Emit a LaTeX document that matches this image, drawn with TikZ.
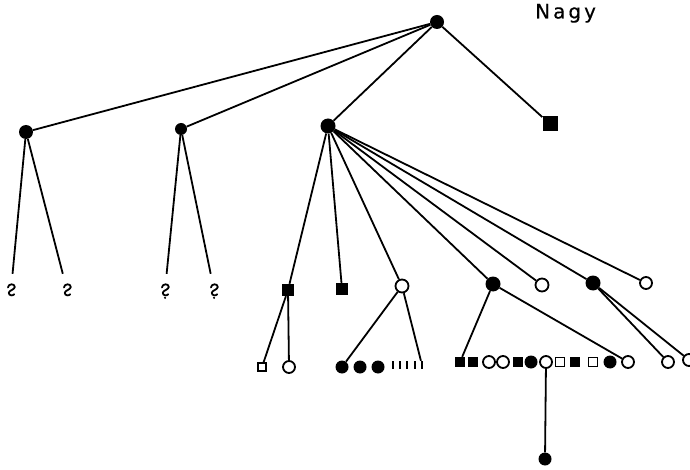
\documentclass[tikz,border=0pt]{standalone}
\usepackage{fontspec}
\newfontfamily\nagyfont[LetterSpace=15,FakeBold=0.4]{DejaVu Sans}
\begin{document}
\begin{tikzpicture}[x=1pt,y=-1pt,
  conn/.style={line width=1.8pt},
  fc/.style={circle,fill=black,inner sep=0pt,minimum size=#1},
  oc/.style={circle,draw=black,line width=1.8pt,fill=white,inner sep=0pt,minimum size=#1},
  fs/.style={rectangle,fill=black,inner sep=0pt,minimum size=#1},
  os/.style={rectangle,draw=black,line width=1.4pt,fill=white,inner sep=0pt,minimum size=#1},
  tally/.style={rectangle,fill=black,inner sep=0pt,minimum width=2.4pt,minimum height=8pt},
  hookbox/.style={rectangle,inner sep=0pt,minimum width=8pt,minimum height=32pt},
  glyph/.style={line width=1.8pt,line cap=round,line join=round}]
\useasboundingbox (0,0) rectangle (690,470);
% level 0
\node[fc=14pt] (root) at (437,22) {};
\node[anchor=base west,inner sep=0pt] (title) at (535,18.5) {\nagyfont\fontsize{20}{20}\selectfont Nagy};
% level 1
\node[fc=14pt] (A) at (26,132) {};
\node[fc=12pt] (B) at (181,129) {};
\node[fc=15pt] (C) at (328,126) {};
\node[fs=15pt] (D) at (550,124) {};
% question marks
\node[hookbox] (qa1) at (11,290) {};
\node[hookbox] (qa2) at (67,290) {};
\node[hookbox] (qb1) at (165,290) {};
\node[hookbox] (qb2) at (214,290) {};
\foreach \q/\d in {qa1/0,qa2/0,qb1/1,qb2/1}{
  \begin{scope}[shift={(\q.center)}]
    \draw[glyph] (-3,-2.5) .. controls (-3,-6.5) and (3.8,-6.8) .. (3.8,-3)
      .. controls (3.8,-0.5) and (-2.2,0.5) .. (-2.2,2.8)
      .. controls (-2.2,6) and (2.2,6) .. (3.2,4.2);
    \ifnum\d=1 \fill (0,7.8) circle (1.2pt);\fi
  \end{scope}
}
% level 2
\node[fs=12pt] (E) at (288,290) {};
\node[fs=12pt] (F) at (342,289) {};
\node[oc=13pt] (G) at (402,286) {};
\node[fc=15pt] (H) at (493,284) {};
\node[oc=13pt] (I) at (542,285) {};
\node[fc=15pt] (J) at (593,283) {};
\node[oc=12pt] (K) at (646,283) {};
% children of E
\node[os=8pt] (e1) at (262,367) {};
\node[oc=12pt] (e2) at (289,367) {};
% children of G
\node[fc=13pt] (g1) at (342,367) {};
\node[fc=13pt] (g2) at (360,367) {};
\node[fc=13pt] (g3) at (378,367) {};
\node[tally] (t1) at (393,365) {};
\node[tally] (t2) at (400,365) {};
\node[tally] (t3) at (407,365) {};
\node[tally] (t4) at (415,365) {};
\node[tally] (t5) at (422,365) {};
% children of H
\node[fs=10pt] (h1) at (460,362) {};
\node[fs=10pt] (h2) at (473,362) {};
\node[oc=12pt] (h3) at (489,362) {};
\node[oc=12pt] (h4) at (503,362) {};
\node[fs=10pt] (h5) at (518,362) {};
\node[fc=13pt] (h6) at (531,362) {};
\node[oc=12pt] (h7) at (546,362) {};
\node[os=9pt] (h8) at (560,362) {};
\node[fs=10pt] (h9) at (575,362) {};
\node[os=9pt] (h10) at (593,362) {};
\node[fc=13pt] (h11) at (610,362) {};
\node[oc=12pt] (h12) at (628,362) {};
% children of J
\node[oc=12pt] (j1) at (668,362) {};
\node[oc=12pt] (j2) at (689,360) {};
% bottom
\node[fc=13pt] (z) at (545,459) {};
% connectors
\draw[conn] (root) -- (A);
\draw[conn] (root) -- (B);
\draw[conn] (root) -- (C);
\draw[conn] (root) -- (D);
\draw[conn] (A) -- (qa1);
\draw[conn] (A) -- (qa2);
\draw[conn] (B) -- (qb1);
\draw[conn] (B) -- (qb2);
\foreach \t in {E,F,G,H,I,J,K} \draw[conn] (C) -- (\t);
\draw[conn] (E) -- (e1);
\draw[conn] (E) -- (e2);
\draw[conn] (G) -- (g1);
\draw[conn] (G) -- (t5);
\draw[conn] (H) -- (h1);
\draw[conn] (H) -- (h12);
\draw[conn] (J) -- (j1);
\draw[conn] (J) -- (j2);
\draw[conn] (h7) -- (z);
\end{tikzpicture}
\end{document}
